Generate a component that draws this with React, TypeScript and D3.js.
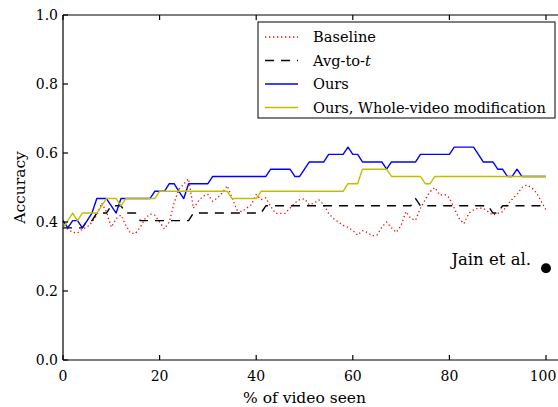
import React, { useEffect, useRef } from 'react'
import * as d3 from 'd3'

// x: percent of video seen (one sample per percent)
const pctSeen = d3.range(0, 101)

const baseline = [
  0.383, 0.38, 0.37, 0.368, 0.38, 0.385, 0.4, 0.42, 0.455, 0.43,
  0.385, 0.41, 0.42, 0.39, 0.367, 0.367, 0.385, 0.41, 0.423, 0.42,
  0.4, 0.38, 0.4, 0.455, 0.495, 0.51, 0.525, 0.44, 0.46, 0.475,
  0.48, 0.46, 0.47, 0.485, 0.505, 0.47, 0.435, 0.43, 0.44, 0.45,
  0.48, 0.465, 0.47, 0.445, 0.425, 0.425, 0.425, 0.44, 0.455, 0.465,
  0.467, 0.45, 0.455, 0.464, 0.45, 0.425, 0.41, 0.4, 0.39, 0.385,
  0.375, 0.362, 0.375, 0.37, 0.36, 0.362, 0.385, 0.4, 0.383, 0.37,
  0.39, 0.43, 0.41, 0.405, 0.44, 0.465, 0.488, 0.5, 0.478, 0.48,
  0.47, 0.44, 0.41, 0.395, 0.425, 0.435, 0.44, 0.44, 0.43, 0.42,
  0.425, 0.43, 0.45, 0.466, 0.48, 0.5, 0.507, 0.5, 0.485, 0.46,
  0.435,
]

const avgToT = [
  0.383, 0.383, 0.383, 0.383, 0.383, 0.404, 0.404, 0.426, 0.426, 0.426,
  0.447, 0.447, 0.447, 0.426, 0.426, 0.426, 0.404, 0.404, 0.404, 0.404,
  0.404, 0.404, 0.404, 0.404, 0.404, 0.404, 0.404, 0.426, 0.426, 0.426,
  0.426, 0.426, 0.426, 0.426, 0.426, 0.426, 0.426, 0.426, 0.426, 0.426,
  0.426, 0.426, 0.447, 0.447, 0.447, 0.447, 0.447, 0.447, 0.447, 0.447,
  0.447, 0.447, 0.447, 0.447, 0.447, 0.447, 0.447, 0.447, 0.447, 0.447,
  0.447, 0.447, 0.447, 0.447, 0.447, 0.447, 0.447, 0.447, 0.447, 0.447,
  0.447, 0.447, 0.447, 0.468, 0.447, 0.447, 0.447, 0.447, 0.447, 0.447,
  0.447, 0.447, 0.447, 0.447, 0.447, 0.447, 0.447, 0.447, 0.447, 0.426,
  0.426, 0.447, 0.447, 0.447, 0.447, 0.447, 0.447, 0.447, 0.447, 0.447,
  0.447,
]

const ours = [
  0.404, 0.383, 0.404, 0.404, 0.383, 0.404, 0.426, 0.468, 0.468, 0.468,
  0.447, 0.426, 0.468, 0.468, 0.468, 0.468, 0.468, 0.468, 0.468, 0.489,
  0.489, 0.489, 0.511, 0.511, 0.489, 0.468, 0.511, 0.511, 0.511, 0.511,
  0.511, 0.532, 0.532, 0.532, 0.532, 0.532, 0.532, 0.532, 0.532, 0.532,
  0.532, 0.532, 0.532, 0.553, 0.553, 0.553, 0.553, 0.553, 0.532, 0.532,
  0.553, 0.574, 0.574, 0.574, 0.574, 0.596, 0.596, 0.596, 0.596, 0.617,
  0.596, 0.596, 0.574, 0.574, 0.574, 0.574, 0.574, 0.553, 0.574, 0.574,
  0.574, 0.574, 0.574, 0.574, 0.596, 0.596, 0.596, 0.596, 0.596, 0.596,
  0.596, 0.617, 0.617, 0.617, 0.617, 0.617, 0.596, 0.574, 0.574, 0.574,
  0.553, 0.553, 0.532, 0.532, 0.553, 0.532, 0.532, 0.532, 0.532, 0.532,
  0.532,
]

const oursWhole = [
  0.383, 0.404, 0.426, 0.404, 0.426, 0.426, 0.426, 0.426, 0.447, 0.468,
  0.468, 0.468, 0.447, 0.468, 0.468, 0.468, 0.468, 0.468, 0.468, 0.468,
  0.489, 0.489, 0.489, 0.489, 0.489, 0.489, 0.489, 0.489, 0.489, 0.489,
  0.489, 0.489, 0.489, 0.489, 0.489, 0.468, 0.468, 0.468, 0.468, 0.468,
  0.468, 0.489, 0.489, 0.489, 0.489, 0.489, 0.489, 0.489, 0.489, 0.489,
  0.489, 0.489, 0.489, 0.489, 0.489, 0.489, 0.489, 0.489, 0.489, 0.511,
  0.511, 0.511, 0.553, 0.553, 0.553, 0.553, 0.553, 0.553, 0.532, 0.532,
  0.532, 0.532, 0.532, 0.532, 0.532, 0.511, 0.511, 0.532, 0.532, 0.532,
  0.532, 0.532, 0.532, 0.532, 0.532, 0.532, 0.532, 0.532, 0.532, 0.532,
  0.532, 0.532, 0.532, 0.532, 0.532, 0.532, 0.532, 0.532, 0.532, 0.532,
  0.532,
]

// single reference result
const jainPoint = { x: 100, y: 0.266, label: 'Jain et al.' }

const xTicks = [0, 20, 40, 60, 80, 100]
const yTicks = [0.0, 0.2, 0.4, 0.6, 0.8, 1.0]

const series = [
  { name: 'Baseline', values: baseline, color: '#ff0000', dash: '1.3,2.7', width: 1.3 },
  { name: 'Avg-to-', italic: 't', values: avgToT, color: '#000000', dash: '9,7', width: 1.4 },
  { name: 'Ours', values: ours, color: '#0000ff', dash: null, width: 1.4 },
  { name: 'Ours, Whole-video modification', values: oursWhole, color: '#bfbf00', dash: null, width: 1.4 },
]

const FONT = '"DejaVu Serif", serif'

export default function App() {
  const svgRef = useRef(null)

  useEffect(() => {
    const svg = d3.select(svgRef.current)
    svg.selectAll('*').remove()

    const left = 63
    const top = 15
    const bottom = 360
    const rightEdge = 558

    const xScale = d3.scaleLinear().domain([0, 100]).range([63, 546])
    const yScale = d3.scaleLinear().domain([0, 1]).range([bottom, top])

    svg.append('rect').attr('width', 558).attr('height', 407).attr('fill', 'white')

    // lines
    const line = d3
      .line<number>()
      .x((_, i) => xScale(pctSeen[i]))
      .y((d) => yScale(d))

    series.forEach((s) => {
      svg
        .append('path')
        .attr('d', line(s.values))
        .attr('fill', 'none')
        .attr('stroke', s.color)
        .attr('stroke-width', s.width)
        .attr('stroke-dasharray', s.dash)
        .attr('stroke-linejoin', 'round')
    })

    // Jain et al. point
    svg
      .append('circle')
      .attr('cx', xScale(jainPoint.x))
      .attr('cy', yScale(jainPoint.y))
      .attr('r', 5)
      .attr('fill', 'black')
    svg
      .append('text')
      .attr('x', xScale(jainPoint.x) - 15)
      .attr('y', yScale(jainPoint.y) - 3)
      .attr('text-anchor', 'end')
      .style('font-family', FONT)
      .style('font-size', '16.5px')
      .text(jainPoint.label)

    // spines (right one falls outside the picture)
    const axis = svg.append('g').attr('stroke', 'black').attr('stroke-width', 1.2)
    axis.append('line').attr('x1', left).attr('x2', left).attr('y1', top).attr('y2', bottom)
    axis.append('line').attr('x1', left).attr('x2', rightEdge).attr('y1', bottom).attr('y2', bottom)
    axis.append('line').attr('x1', left).attr('x2', rightEdge).attr('y1', top).attr('y2', top)

    // ticks point inward
    yTicks.forEach((t) => {
      axis.append('line').attr('x1', left).attr('x2', left + 5).attr('y1', yScale(t)).attr('y2', yScale(t))
    })
    xTicks.forEach((t) => {
      axis.append('line').attr('x1', xScale(t)).attr('x2', xScale(t)).attr('y1', bottom).attr('y2', bottom - 5)
      axis.append('line').attr('x1', xScale(t)).attr('x2', xScale(t)).attr('y1', top).attr('y2', top + 5)
    })

    const labels = svg.append('g').style('font-family', FONT).style('font-size', '14px').attr('fill', 'black')
    yTicks.forEach((t) => {
      labels
        .append('text')
        .attr('x', left - 5)
        .attr('y', yScale(t) + 5)
        .attr('text-anchor', 'end')
        .text(t.toFixed(1))
    })
    xTicks.forEach((t) => {
      // keep the last label inside the picture
      const x = Math.min(xScale(t), rightEdge - 15)
      labels
        .append('text')
        .attr('x', x)
        .attr('y', 381)
        .attr('text-anchor', 'middle')
        .text(t)
    })

    labels
      .append('text')
      .attr('x', xScale(50))
      .attr('y', 403)
      .attr('text-anchor', 'middle')
      .style('font-size', '15.5px')
      .text('% of video seen')
    labels
      .append('text')
      .attr('transform', `translate(25,${yScale(0.5)}) rotate(-90)`)
      .attr('text-anchor', 'middle')
      .style('font-size', '15.5px')
      .text('Accuracy')

    // legend
    const legend = svg.append('g')
    legend
      .append('rect')
      .attr('x', 258)
      .attr('y', 22)
      .attr('width', 297)
      .attr('height', 96)
      .attr('fill', 'white')
      .attr('stroke', 'black')
      .attr('stroke-width', 1)

    series.forEach((s, i) => {
      const y = 37 + i * 23.5
      legend
        .append('line')
        .attr('x1', 265)
        .attr('x2', 298)
        .attr('y1', y)
        .attr('y2', y)
        .attr('stroke', s.color)
        .attr('stroke-width', s.width)
        .attr('stroke-dasharray', s.dash)
      const txt = legend
        .append('text')
        .attr('x', 313)
        .attr('y', y + 5)
        .style('font-family', FONT)
        .style('font-size', '14.6px')
        .text(s.name)
      if (s.italic) {
        txt.append('tspan').style('font-style', 'italic').text(s.italic)
      }
    })
  }, [])

  return (
    <svg
      ref={svgRef}
      width={558}
      height={407}
      style={{ position: 'absolute', left: 0, top: 0 }}
    ></svg>
  )
}
